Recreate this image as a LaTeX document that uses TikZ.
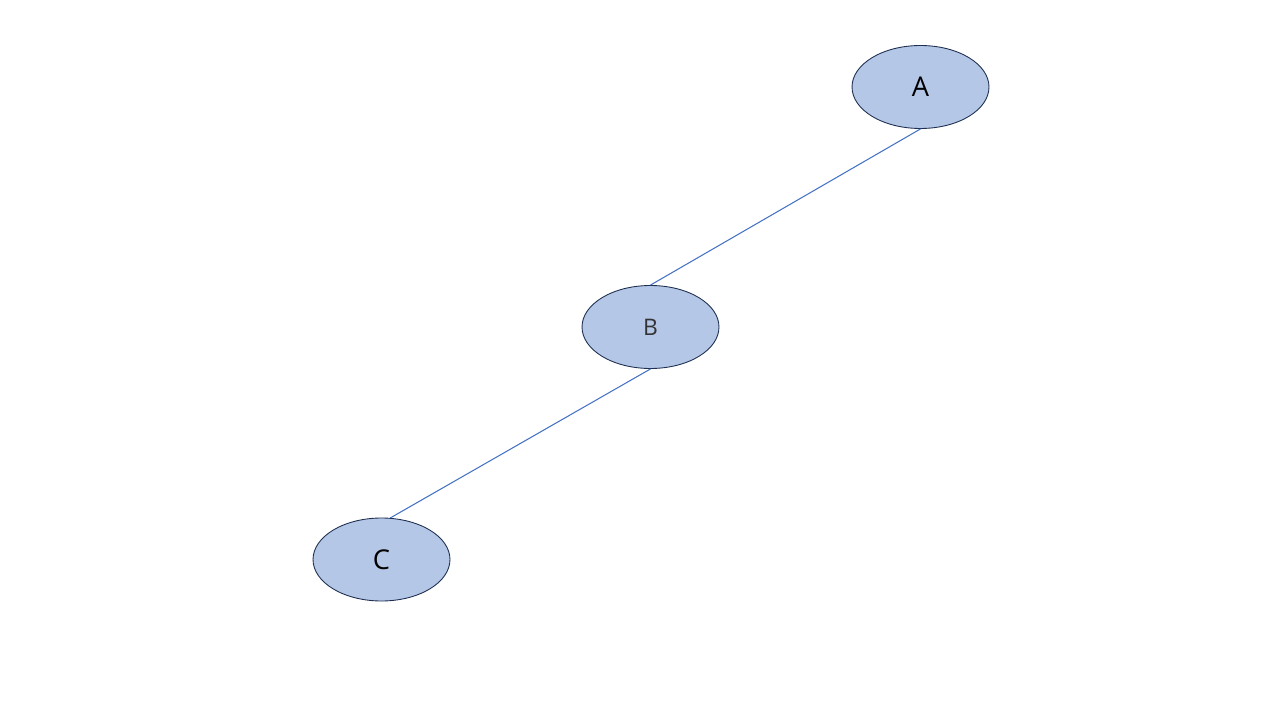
\documentclass[tikz,border=0pt]{standalone}
\usepackage{fontspec}
\setmainfont{Open Sans}
\usetikzlibrary{shapes.geometric}
\definecolor{nodefill}{HTML}{B4C7E7}
\definecolor{nodeline}{HTML}{1F2F50}
\definecolor{edgeblue}{HTML}{4472C4}
\begin{document}
\begin{tikzpicture}[x=0.02cm,y=-0.02cm,treenode/.style={ellipse,draw=nodeline,line width=0.5pt,fill=nodefill,minimum width=2.74cm,minimum height=1.66cm,inner sep=0pt,font=\fontsize{15.5}{17}\selectfont},edge/.style={draw=edgeblue,line width=0.6pt}]
\useasboundingbox (0,0) rectangle (1271,709);
\node[treenode] (a) at (920.5,87) {A};
\node[treenode,font=\fontsize{13}{15}\selectfont,text=black!80] (b) at (650.5,327) {B};
\node[treenode] (c) at (381.5,559.5) {C};
\draw[edge] (a.south)--(b.north);
\draw[edge] (b.south)--(c.78);
\end{tikzpicture}
\end{document}
